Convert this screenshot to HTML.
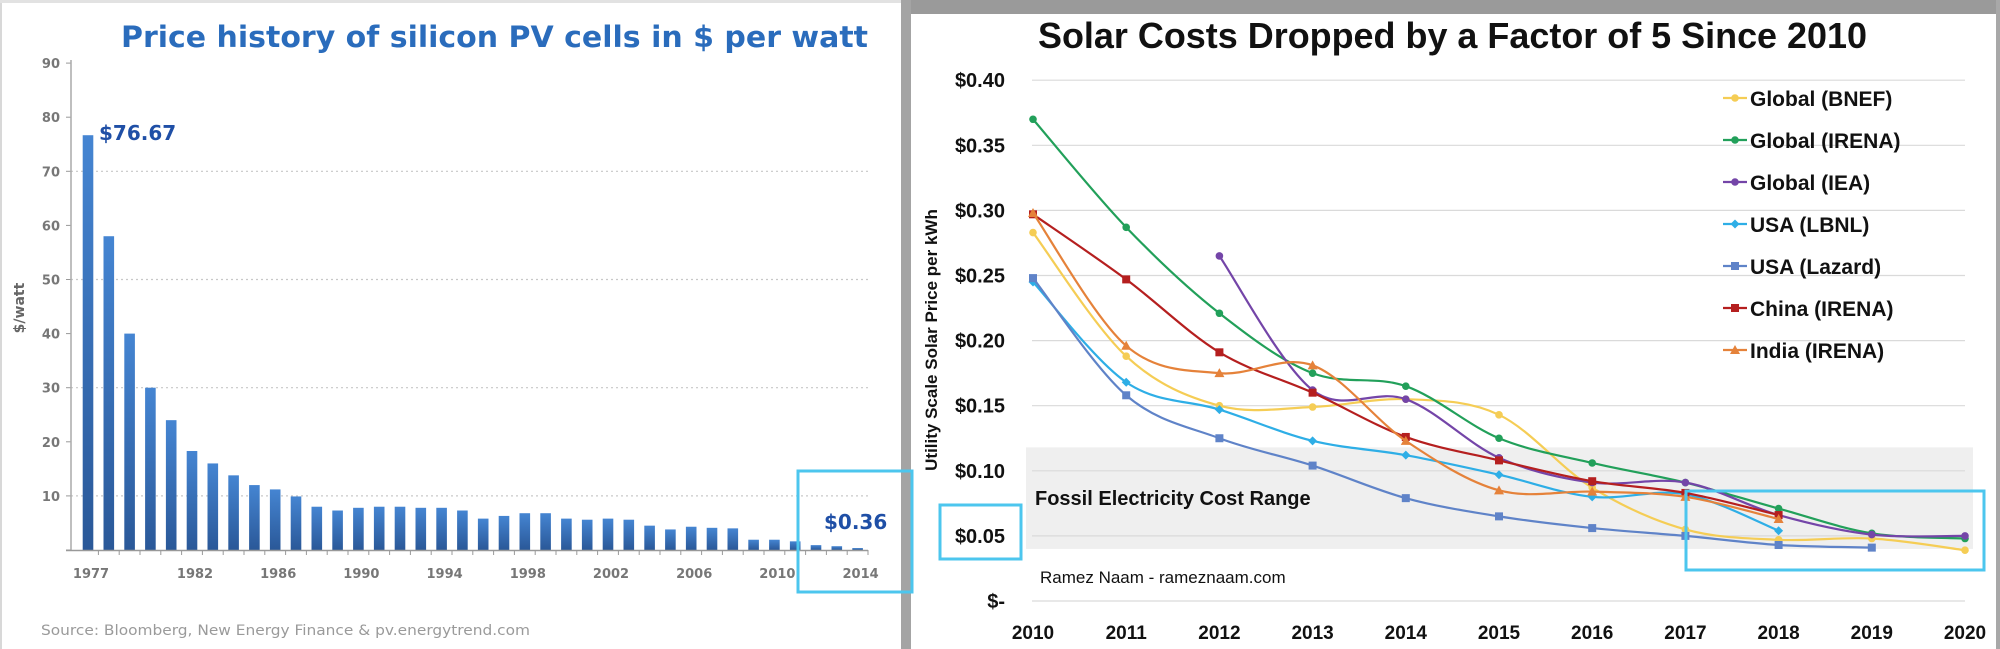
<!DOCTYPE html>
<html><head><meta charset="utf-8"><style>
html,body{margin:0;padding:0;background:#fff;}
svg{display:block;}
text{font-family:"Liberation Sans",sans-serif;}
.dv{font-family:"DejaVu Sans","Liberation Sans",sans-serif;}
</style></head><body>
<svg id="s" width="2000" height="649" viewBox="0 0 2000 649" xmlns="http://www.w3.org/2000/svg">
<defs>
<linearGradient id="barg" x1="0" x2="0" y1="0" y2="1">
<stop offset="0" stop-color="#4585d2"/><stop offset="1" stop-color="#2a5898"/>
</linearGradient>
</defs>
<rect x="0" y="0" width="2" height="649" fill="#d8d8d8"/>
<rect x="0" y="0" width="905" height="3" fill="#e2e2e2"/>
<rect x="901" y="0" width="10" height="649" fill="#a4a4a4"/>
<rect x="911" y="0" width="1089" height="14" fill="#9a9a9a"/>
<rect x="1996" y="0" width="4" height="649" fill="#a8a8a8"/>

<text class="dv" x="121" y="47" font-size="29" font-weight="bold" fill="#2a6cbc" textLength="747" lengthAdjust="spacingAndGlyphs">Price history of silicon PV cells in $ per watt</text>
<g id="left"></g>
<text class="dv" x="41" y="635" font-size="14" fill="#9a9a9a" textLength="489" lengthAdjust="spacingAndGlyphs">Source: Bloomberg, New Energy Finance &amp; pv.energytrend.com</text>

<text x="1038" y="48" font-size="36" font-weight="bold" fill="#111" textLength="829" lengthAdjust="spacingAndGlyphs">Solar Costs Dropped by a Factor of 5 Since 2010</text>
<g id="right"></g>
</svg>
<script>
const leftYears = [];
for (let y = 1977; y <= 2014; y++) leftYears.push(y);
const leftPrices = [76.67,58,40,30,24,18.3,16,13.8,12,11.2,9.9,8,7.3,7.8,8,8,7.8,7.8,7.3,5.8,6.3,6.8,6.8,5.8,5.6,5.8,5.6,4.5,3.8,4.3,4.1,4.0,1.9,1.9,1.6,0.9,0.7,0.36];
const leftTicks = [0,10,20,30,40,50,60,70,80,90];
const leftGrid = [10,30,50,70];
const leftXLabels = [1977,1982,1986,1990,1994,1998,2002,2006,2010,2014];

const rYears = [2010,2011,2012,2013,2014,2015,2016,2017,2018,2019,2020];
const rTicks = [0,0.05,0.10,0.15,0.20,0.25,0.30,0.35,0.40];
const rTickLabels = ["$-","$0.05","$0.10","$0.15","$0.20","$0.25","$0.30","$0.35","$0.40"];
const bnef   = [0.283,0.188,0.150,0.149,0.155,0.143,0.087,0.055,0.047,0.048,0.039];
const irena  = [0.370,0.287,0.221,0.175,0.165,0.125,0.106,0.091,0.071,0.052,0.048];
const iea    = [null,null,0.265,0.162,0.155,0.110,0.091,0.091,0.066,0.051,0.050];
const lbnl   = [0.245,0.168,0.147,0.123,0.112,0.097,0.080,0.082,0.054,null,null];
const lazard = [0.248,0.158,0.125,0.104,0.079,0.065,0.056,0.050,0.043,0.041,null];
const china  = [0.297,0.247,0.191,0.160,0.126,0.108,0.092,0.083,0.066,null,null];
const india  = [0.298,0.196,0.175,0.181,0.123,0.085,0.084,0.080,0.063,null,null];
const seriesNames = ["Global (BNEF)","Global (IRENA)","Global (IEA)","USA (LBNL)","USA (Lazard)","China (IRENA)","India (IRENA)"];

const NS = "http://www.w3.org/2000/svg";
function mk(tag, attrs, parent, txt) {
  const e = document.createElementNS(NS, tag);
  for (const k in attrs) e.setAttribute(k, attrs[k]);
  if (txt !== undefined) e.textContent = txt;
  parent.appendChild(e);
  return e;
}

const L = document.getElementById('left');
const lx = i => 88 + i * 20.8;
const ly = v => 550 - v * 5.41;
leftGrid.forEach(v => {
  const g = mk('line', {x1:71, x2:868, y1:ly(v), y2:ly(v), stroke:'#c8c8c8', 'stroke-width':1.2, 'stroke-dasharray':'2,3'}, L);
  
  
});
leftTicks.forEach(v => {
  const t = mk('text', {class:'dv', x:60, y:ly(v)+5, 'font-size':13, 'font-weight':'bold', fill:'#777', 'text-anchor':'end'}, L, v === 0 ? '' : v);
  
  
  mk('line', {x1:66, x2:71, y1:ly(v), y2:ly(v), stroke:'#999', 'stroke-width':1}, L);
});
const yt = mk('text', {class:'dv', x:0, y:0, 'font-size':14, 'font-weight':'bold', fill:'#666', 'text-anchor':'middle', transform:'translate(24,308) rotate(-90)'}, L, '$/watt');


leftPrices.forEach((v, i) => {
  const b = mk('rect', {x:lx(i)-5.3, y:ly(v), width:10.6, height:550-ly(v), fill:'url(#barg)'}, L);
  
  
  mk('line', {x1:lx(i)+10.4, x2:lx(i)+10.4, y1:550, y2:555, stroke:'#999'}, L);
});
mk('line', {x1:71, x2:71, y1:60, y2:551, stroke:'#aaa', 'stroke-width':1.5}, L);
mk('line', {x1:66, x2:868, y1:550.5, y2:550.5, stroke:'#999', 'stroke-width':1.5}, L);
leftXLabels.forEach(yr => {
  const t = mk('text', {class:'dv', x:lx(yr-1977)+3, y:578, 'font-size':13, 'font-weight':'bold', fill:'#777', 'text-anchor':'middle'}, L, yr);
  
  
});
const a1 = mk('text', {class:'dv', x:99, y:140, 'font-size':20, 'font-weight':'bold', fill:'#1f4fa6'}, L, '$76.67');


const a2 = mk('text', {class:'dv', x:824, y:529, 'font-size':20, 'font-weight':'bold', fill:'#1f4fa6'}, L, '$0.36');


const hb1 = mk('rect', {x:798, y:471, width:114, height:121, fill:'none', stroke:'#4cc6ee', 'stroke-width':3}, L);



const R = document.getElementById('right');
const rx = yr => 1033 + (yr - 2010) * 93.2;
const ry = v => 601 - v * 1302;
const band = mk('rect', {x:1026, y:ry(0.118), width:947, height:ry(0.04)-ry(0.118), fill:'#efefef'}, R);


rTicks.forEach((v, i) => {
  const g = mk('line', {x1:1032, x2:1965, y1:ry(v), y2:ry(v), stroke:'#dadada', 'stroke-width':1.2}, R);
  
  
  const t = mk('text', {x:1005, y:ry(v)+7, 'font-size':20, 'font-weight':'bold', fill:'#111', 'text-anchor':'end'}, R, rTickLabels[i]);
  
  
});
rYears.forEach(yr => {
  const t = mk('text', {x:rx(yr), y:639, 'font-size':19, 'font-weight':'bold', fill:'#111', 'text-anchor':'middle'}, R, yr);
  
  
});
const rt = mk('text', {x:0, y:0, 'font-size':17, 'font-weight':'bold', fill:'#111', 'text-anchor':'middle', transform:'translate(937,340) rotate(-90)'}, R, 'Utility Scale Solar Price per kWh');


const fl = mk('text', {x:1035, y:505, 'font-size':20, 'font-weight':'bold', fill:'#111'}, R, 'Fossil Electricity Cost Range');


const cr = mk('text', {x:1040, y:583, 'font-size':17, fill:'#111'}, R, 'Ramez Naam - rameznaam.com');



const allSeries = [bnef, irena, iea, lbnl, lazard, china, india];
const colors = ['#f5cd55','#22a05a','#7445a8','#2eaee6','#5f83c8','#b51f1f','#e5823a'];
const shapes = ['circle','circle','circle','diamond','square','square','triangle'];
function marker(x, y, shape, c, parent) {
  if (shape === 'circle') return mk('circle', {cx:x, cy:y, r:3.8, fill:c}, parent);
  if (shape === 'square') return mk('rect', {x:x-4, y:y-4, width:8, height:8, fill:c}, parent);
  if (shape === 'diamond') return mk('polygon', {points:`${x},${y-4.5} ${x+4.5},${y} ${x},${y+4.5} ${x-4.5},${y}`, fill:c}, parent);
  return mk('polygon', {points:`${x},${y-5} ${x+5},${y+4} ${x-5},${y+4}`, fill:c}, parent);
}
allSeries.forEach((vals, si) => {
  const pts = [];
  vals.forEach((v, i) => { if (v !== null) pts.push([rx(rYears[i]), ry(v)]); });
  let d = `M${pts[0][0]},${pts[0][1]}`;
  for (let i = 0; i < pts.length - 1; i++) {
    const p0 = pts[i-1] || pts[i], p1 = pts[i], p2 = pts[i+1], p3 = pts[i+2] || p2;
    const c1 = [p1[0] + (p2[0]-p0[0])/6, p1[1] + (p2[1]-p0[1])/6];
    const c2 = [p2[0] - (p3[0]-p1[0])/6, p2[1] - (p3[1]-p1[1])/6];
    d += ` C${c1[0]},${c1[1]} ${c2[0]},${c2[1]} ${p2[0]},${p2[1]}`;
  }
  const path = mk('path', {d:d, fill:'none', stroke:colors[si], 'stroke-width':2.2}, R);
  
  
  pts.forEach(p => {
    const m = marker(p[0], p[1], shapes[si], colors[si], R);
    
    
  });
  const ly2 = 98 + si * 42;
  mk('line', {x1:1723, x2:1747, y1:ly2, y2:ly2, stroke:colors[si], 'stroke-width':2.2}, R);
  const lm = marker(1735, ly2, shapes[si], colors[si], R);
  
  
  const lt = mk('text', {x:1750, y:ly2+8, 'font-size':21, 'font-weight':'bold', fill:'#111'}, R, seriesNames[si]);
  
  
});
const hb2 = mk('rect', {x:940, y:505, width:81, height:54, fill:'none', stroke:'#4cc6ee', 'stroke-width':3}, R);


const hb3 = mk('rect', {x:1686, y:491, width:298, height:79, fill:'none', stroke:'#4cc6ee', 'stroke-width':3}, R);


</script>
</body></html>
